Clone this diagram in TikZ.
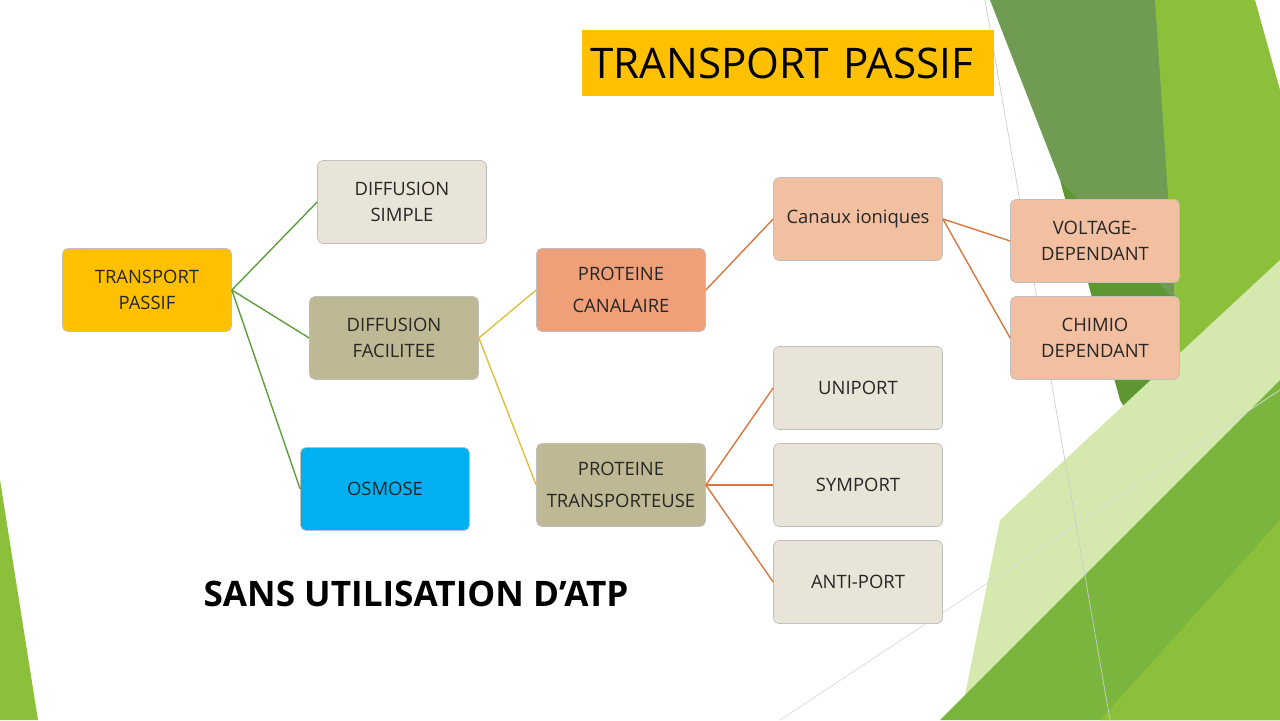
\documentclass[tikz,border=0pt]{standalone}
\usepackage{fontspec}
\setmainfont{Open Sans}
\usetikzlibrary{positioning}
\definecolor{jaune}{HTML}{FFC000}
\definecolor{creme}{HTML}{E8E4D8}
\definecolor{kaki}{HTML}{BFB895}
\definecolor{bleu}{HTML}{00B0F0}
\definecolor{saumon}{HTML}{F0A078}
\definecolor{peche}{HTML}{F2BFA0}
\definecolor{lvert}{HTML}{5E9E3C}
\definecolor{ljaune}{HTML}{E0C040}
\definecolor{lorange}{HTML}{D9773E}
\definecolor{vgris}{HTML}{6F9B52}
\definecolor{vfonce}{HTML}{5E9632}
\definecolor{vclair}{HTML}{8CBF3A}
\definecolor{vpale}{HTML}{D5E8AE}
\definecolor{vmoyen}{HTML}{7AB53E}
\tikzset{box/.style={draw=black!25, rounded corners=3pt, minimum width=3.38cm, minimum height=1.66cm, align=center, font=\fontsize{10.5}{15}\selectfont, text=black!85},
  lien/.style={thick}}
\begin{document}
\begin{tikzpicture}[x=0.02cm,y=-0.02cm]
    \useasboundingbox (0,0) rectangle (1280,720);
    % decor
    \fill[vgris] (990,0) -- (1160,0) -- (1175,300) -- (1060,180) -- cycle;
    \fill[vfonce] (1060,180) -- (1175,300) -- (1190,520) -- (1120,400) -- cycle;
    \fill[vclair] (1155,0) -- (1255,0) -- (1280,90) -- (1280,720) -- (1200,720) -- (1175,300) -- cycle;
    \fill[vpale] (1000,520) -- (1280,260) -- (1280,420) -- (1120,720) -- (960,720) -- cycle;
    \fill[vmoyen] (940,720) -- (1280,380) -- (1280,720) -- cycle;
    \fill[vclair] (1100,720) -- (1280,520) -- (1280,720) -- cycle;
    \fill[vclair] (0,480) -- (38,720) -- (0,720) -- cycle;
    \draw[black!20] (985,0) -- (1110,720);
    \draw[black!15] (780,720) -- (1280,390);
    % titre
    \node[fill=jaune, minimum width=8.26cm, minimum height=1.34cm, text width=7.9cm, align=left, font=\fontsize{24}{26}\selectfont] (titre) at (788,63) {TRANSPORT PASSIF};
    % boites
    \node[box, fill=jaune] (tp) at (147,290) {TRANSPORT\\PASSIF};
    \node[box, fill=creme] (ds) at (402,202) {DIFFUSION\\SIMPLE};
    \node[box, fill=kaki] (df) at (394,338) {DIFFUSION\\FACILITEE};
    \node[box, fill=bleu] (osm) at (385,489) {OSMOSE};
    \node[box, fill=saumon, font=\fontsize{10.5}{18}\selectfont] (pc) at (621,290) {PROTEINE\\CANALAIRE};
    \node[box, fill=kaki, font=\fontsize{10.5}{18}\selectfont] (pt) at (621,485) {PROTEINE\\TRANSPORTEUSE};
    \node[box, fill=peche] (ci) at (858,219) {Canaux ioniques};
    \node[box, fill=peche] (vd) at (1095,241) {VOLTAGE-\\DEPENDANT};
    \node[box, fill=peche] (cd) at (1095,338) {CHIMIO\\DEPENDANT};
    \node[box, fill=creme] (uni) at (858,388) {UNIPORT};
    \node[box, fill=creme] (sym) at (858,485) {SYMPORT};
    \node[box, fill=creme] (anti) at (858,582) {ANTI-PORT};
    \node[font=\fontsize{20}{22}\selectfont\bfseries] (atp) at (416,594) {SANS UTILISATION D’ATP};
    % liens
    \foreach \n in {ds,df,osm} \draw[lien, lvert] (tp.east) -- (\n.west);
    \foreach \n in {pc,pt} \draw[lien, ljaune] (df.east) -- (\n.west);
    \draw[lien, lorange] (pc.east) -- (ci.west);
    \foreach \n in {vd,cd} \draw[lien, lorange] (ci.east) -- (\n.west);
    \foreach \n in {uni,sym,anti} \draw[lien, lorange] (pt.east) -- (\n.west);
\end{tikzpicture}
\end{document}
